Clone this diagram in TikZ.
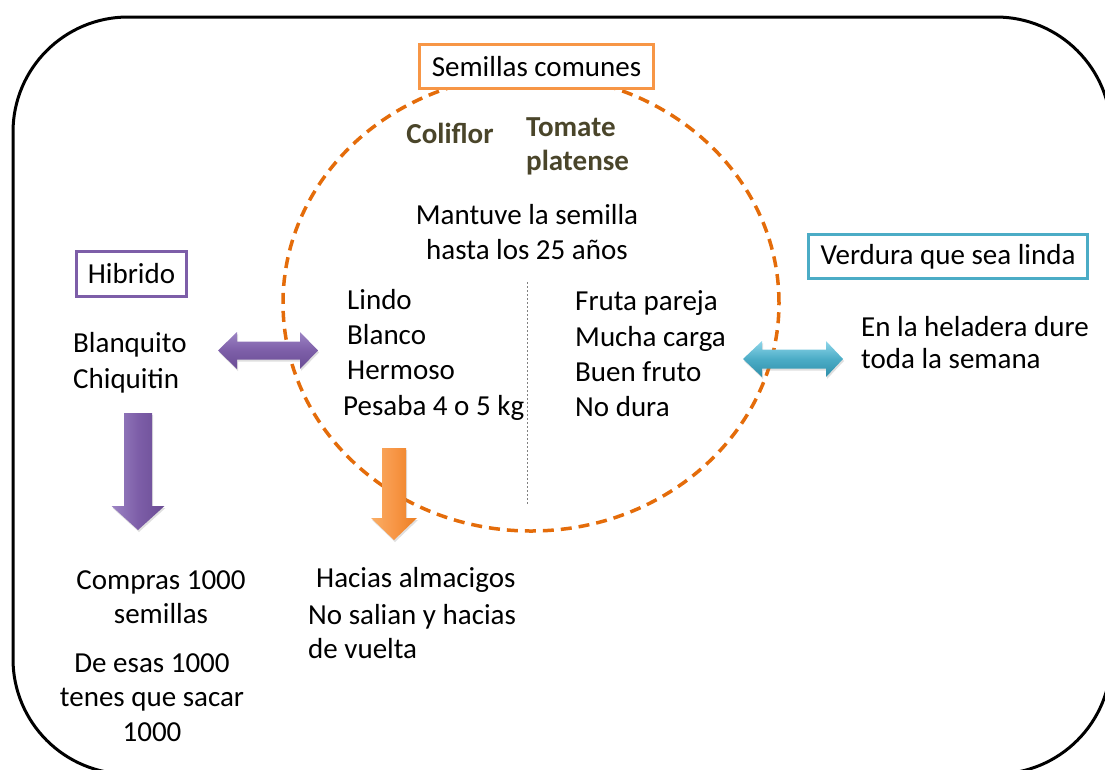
\documentclass[tikz,border=0pt]{standalone}
\usepackage{fontspec}
\setmainfont{Carlito}
\usetikzlibrary{shadows}
\definecolor{boxorange}{HTML}{F79646}
\definecolor{eorange}{HTML}{E46C0A}
\definecolor{bpurple}{HTML}{7D5EA8}
\definecolor{pdark}{HTML}{6A4C94}
\definecolor{plight}{HTML}{9C84C4}
\definecolor{bcyan}{HTML}{4BACC6}
\definecolor{cdark}{HTML}{2E8FAA}
\definecolor{clight}{HTML}{8ED6EA}
\definecolor{odark}{HTML}{EC7E22}
\definecolor{olight}{HTML}{FAAE66}
\definecolor{olivetxt}{HTML}{4A452A}
\begin{document}
\begin{tikzpicture}[x=1pt,y=-1pt,
  txt/.style={font=\fontsize{29}{35}\selectfont, inner sep=0pt},
  boldtxt/.style={font=\fontsize{29}{35}\selectfont\bfseries, text=olivetxt, inner sep=0pt},
  lbox/.style={draw, line width=3pt, fill=white, inner sep=0pt, font=\fontsize{29}{35}\selectfont},
  blockarrow/.style={drop shadow={opacity=0.25, shadow xshift=1pt, shadow yshift=-2pt}},
]
\useasboundingbox (0,0) rectangle (1105,769);
\begin{scope}
\clip (0,0) rectangle (1105,769);
\draw[line width=3pt, rounded corners=115pt] (13,17) rectangle (1111,774);
\end{scope}

% dashed ellipse
\draw[eorange, line width=3.5pt, dash pattern=on 11pt off 7pt] (531,303) ellipse [x radius=248pt, y radius=228pt];

% divider
\coordinate (dtop) at (527,282);
\coordinate (dbot) at (527,505);
\draw[gray, line width=0.8pt, dash pattern=on 2pt off 2pt] (dtop) -- (dbot);

% boxes
\node[lbox, draw=boxorange, minimum width=234pt, minimum height=44pt] (sem) at (536.5,66.5) {Semillas comunes};
\node[lbox, draw=bpurple, minimum width=110pt, minimum height=45pt] (hib) at (131.5,274) {Hibrido};
\node[lbox, draw=bcyan, minimum width=279pt, minimum height=44pt] (ver) at (948,256.5) {Verdura que sea linda};

% bold labels
\node[boldtxt, anchor=base] (col) at (450,143) {Coliflor};
\node[boldtxt, anchor=base west] (tom1) at (526,136) {Tomate};
\node[boldtxt, anchor=base west] (tom2) at (526,170) {platense};

% center text
\node[txt, anchor=base] (man1) at (527,224) {Mantuve la semilla};
\node[txt, anchor=base] (man2) at (527,259) {hasta los 25 años};

\node[txt, anchor=base west] (l1) at (347,309) {Lindo};
\node[txt, anchor=base west] (l2) at (347,344) {Blanco};
\node[txt, anchor=base west] (l3) at (347,379) {Hermoso};
\node[txt, anchor=base west] (l4) at (343,415) {Pesaba 4 o 5 kg};

\node[txt, anchor=base west] (r1) at (575,310) {Fruta pareja};
\node[txt, anchor=base west] (r2) at (575,346) {Mucha carga};
\node[txt, anchor=base west] (r3) at (575,381) {Buen fruto};
\node[txt, anchor=base west] (r4) at (575,416) {No dura};

\node[txt, anchor=base west] (b1) at (73,352) {Blanquito};
\node[txt, anchor=base west] (b2) at (73,388) {Chiquitin};

\node[txt, anchor=base west] (h1) at (861,336) {En la heladera dure};
\node[txt, anchor=base west] (h2) at (861,368) {toda la semana};

\node[txt, anchor=base] (c1) at (161,589) {Compras 1000};
\node[txt, anchor=base] (c2) at (161,623) {semillas};
\node[txt, anchor=base] (d1) at (152,672) {De esas 1000};
\node[txt, anchor=base] (d2) at (152,706) {tenes que sacar};
\node[txt, anchor=base] (d3) at (152,741) {1000};

\node[txt, anchor=base west] (a1) at (316,587) {Hacias almacigos};
\node[txt, anchor=base west] (a2) at (308,624) {No salian y hacias};
\node[txt, anchor=base west] (a3) at (308,658) {de vuelta};

% block arrows
\path[blockarrow, top color=plight, bottom color=pdark, middle color=bpurple]
  (218,350.5) -- (237,332) -- (237,341.5) -- (300,341.5) -- (300,332) -- (318,350.5)
  -- (300,369) -- (300,359.5) -- (237,359.5) -- (237,369) -- cycle;
\path[blockarrow, top color=clight, bottom color=cdark, middle color=bcyan]
  (743,359) -- (762,341) -- (762,349.5) -- (826,349.5) -- (826,341) -- (843,359)
  -- (826,377) -- (826,368.5) -- (762,368.5) -- (762,377) -- cycle;
\path[blockarrow, left color=plight, right color=pdark, middle color=bpurple]
  (124,413) -- (152,413) -- (152,506) -- (164.5,506) -- (138,530) -- (111.5,506) -- (124,506) -- cycle;
\path[blockarrow, left color=olight, right color=odark, middle color=boxorange]
  (382,448) -- (406,448) -- (406,518) -- (417,518) -- (394,540) -- (371,518) -- (382,518) -- cycle;
\end{tikzpicture}
\end{document}
